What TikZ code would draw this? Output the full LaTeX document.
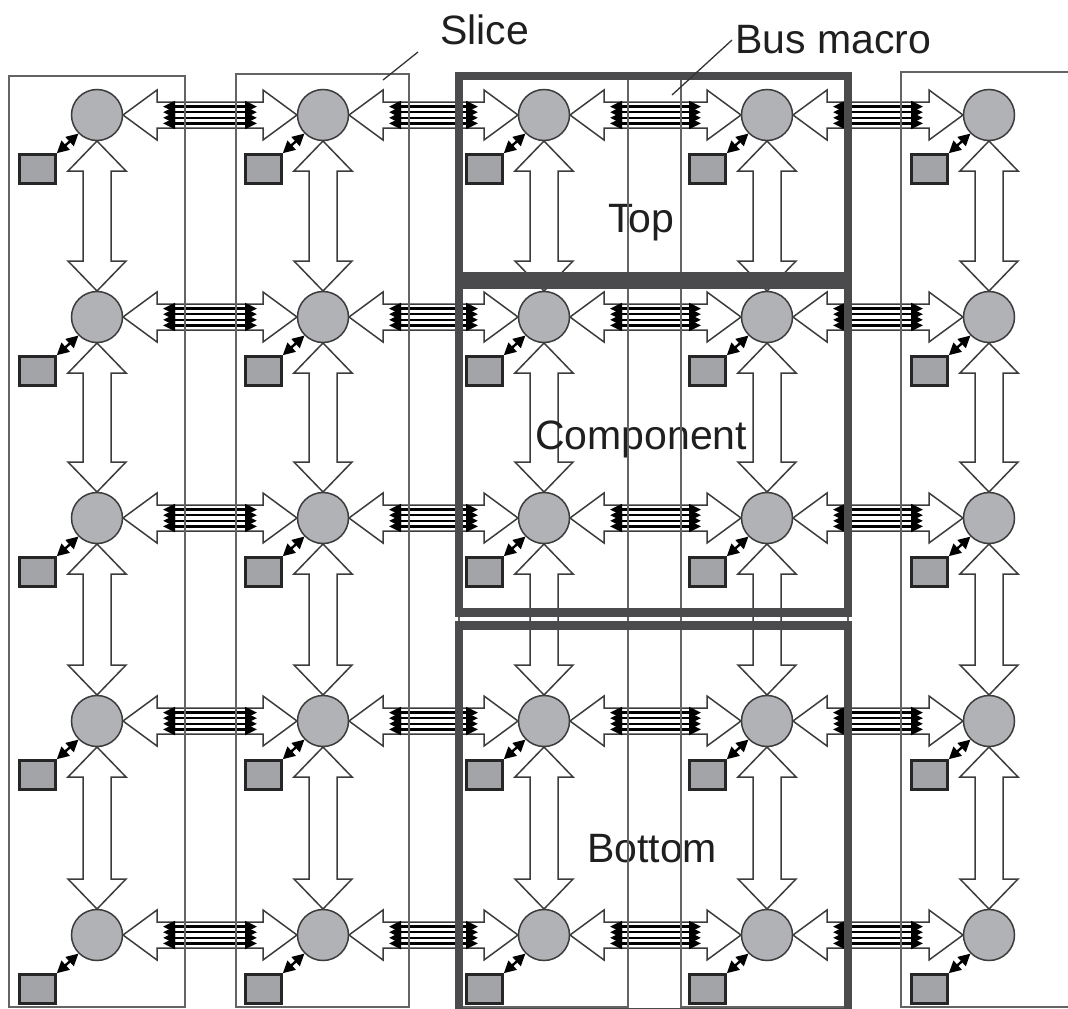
\documentclass[tikz,border=0pt]{standalone}
\usepackage{fontspec}
\setmainfont{Liberation Sans}
\usetikzlibrary{arrows.meta,calc}

\definecolor{edgegray}{HTML}{3C3C3C}
\definecolor{nodefill}{HTML}{B1B2B6}
\definecolor{portfill}{HTML}{A3A4A8}
\definecolor{slicegray}{HTML}{646464}
\definecolor{macrogray}{HTML}{4B4B4D}

\begin{document}
\begin{tikzpicture}[x=1pt,y=-1pt,
  router/.style={circle, draw=edgegray, line width=1.5pt, fill=nodefill,
    minimum size=51pt, inner sep=0pt},
  port/.style={rectangle, draw=black!85, line width=2.6pt, fill=portfill,
    minimum width=36pt, minimum height=29pt, inner sep=0pt},
  portlink/.style={black, line width=2.4pt,
    {Triangle[length=12pt,width=12pt]}-{Triangle[length=12pt,width=12pt]}},
  fatarrow/.style={draw=edgegray, line width=1.5pt, fill=white, line join=miter},
  busline/.style={black, line width=2.3pt,
    {Triangle[length=12pt,width=11pt]}-{Triangle[length=12pt,width=11pt]}},
  slicebox/.style={draw=slicegray, line width=1.8pt},
  macrobox/.style={draw=macrogray, line width=8.5pt},
  tagtext/.style={font=\fontsize{41}{44}\selectfont, text=black!88,
    inner sep=0pt, anchor=base west},
  leader/.style={draw=black!80, line width=1.3pt}
]
\useasboundingbox (0,0) rectangle (1068,1009);
\fill[white] (0,0) rectangle (1068,1009);

% grid positions of the routers
\foreach \c/\x in {1/97,2/323,3/544,4/767,5/989}
  \foreach \r/\y in {1/115,2/317,3/518,4/721,5/935}
    \coordinate (p-\r-\c) at (\x,\y);

% horizontal links: fat double arrow with a bus of wires in the middle
\foreach \r in {1,...,5}{
  \foreach \c in {1,...,4}{
    \pgfmathtruncatemacro{\n}{\c+1}
    \path ($(p-\r-\c)+(26,0)$) coordinate (ha) ($(p-\r-\n)+(-26,0)$) coordinate (hb);
    \draw[fatarrow] (ha) -- ++(34,-25) -- ++(0,12) -- ($(hb)+(-34,-13)$)
      -- ++(0,-12) -- (hb) -- ++(-34,25) -- ++(0,-12) -- ($(ha)+(34,13)$)
      -- ++(0,12) -- cycle;
    \foreach \o in {-8.4,-2.8,2.8,8.4}
      \draw[busline] ($(ha)+(40,\o)$) -- ($(hb)+(-40,\o)$);
  }
}

% vertical links
\foreach \c in {1,...,5}{
  \foreach \r in {1,...,4}{
    \pgfmathtruncatemacro{\n}{\r+1}
    \path ($(p-\r-\c)+(0,26)$) coordinate (va) ($(p-\n-\c)+(0,-26)$) coordinate (vb);
    \draw[fatarrow] (va) -- ++(-29,30) -- ++(15,0) -- ($(vb)+(-14,-30)$)
      -- ++(-15,0) -- (vb) -- ++(29,-30) -- ++(-15,0) -- ($(va)+(14,30)$)
      -- ++(15,0) -- cycle;
  }
}

% routers with their local ports
\foreach \c in {1,...,5}{
  \foreach \r in {1,...,5}{
    \node[router] (r-\r-\c) at (p-\r-\c) {};
    \node[port] (q-\r-\c) at ($(p-\r-\c)+(-59.5,54)$) {};
    \draw[portlink] (q-\r-\c.north east) -- (r-\r-\c.south west);
  }
}

% region names
\node[tagtext] (toptext) at (608,232) {Top};
\node[tagtext] (comptext) at (535,449) {Component};
\node[tagtext] (bottext) at (587,862) {Bottom};

% slices
\draw[slicebox] (9,76) rectangle (185,1007);
\draw[slicebox] (236,74) rectangle (409,1007);
\draw[slicebox] (459,76) rectangle (628,1007);
\draw[slicebox] (681,76) rectangle (848,1007);
\draw[slicebox] (901,72) rectangle (1085,1007);

% bus macro regions
\draw[macrobox] (459,76) rectangle (848,276);
\draw[macrobox] (459,284.5) rectangle (848,612.5);
\draw[macrobox] (459,625.5) rectangle (848,1012);

% callouts
\node[tagtext] (slicetext) at (440,44) {Slice};
\node[tagtext] (bmtext) at (735,53) {Bus macro};
\coordinate (sliceend) at (383,80);
\coordinate (bmend) at (672,95);
\draw[leader] ($(slicetext.base west)+(-22,8)$) -- (sliceend);
\draw[leader] ($(bmtext.base west)+(-3,-13)$) -- (bmend);
\end{tikzpicture}
\end{document}
